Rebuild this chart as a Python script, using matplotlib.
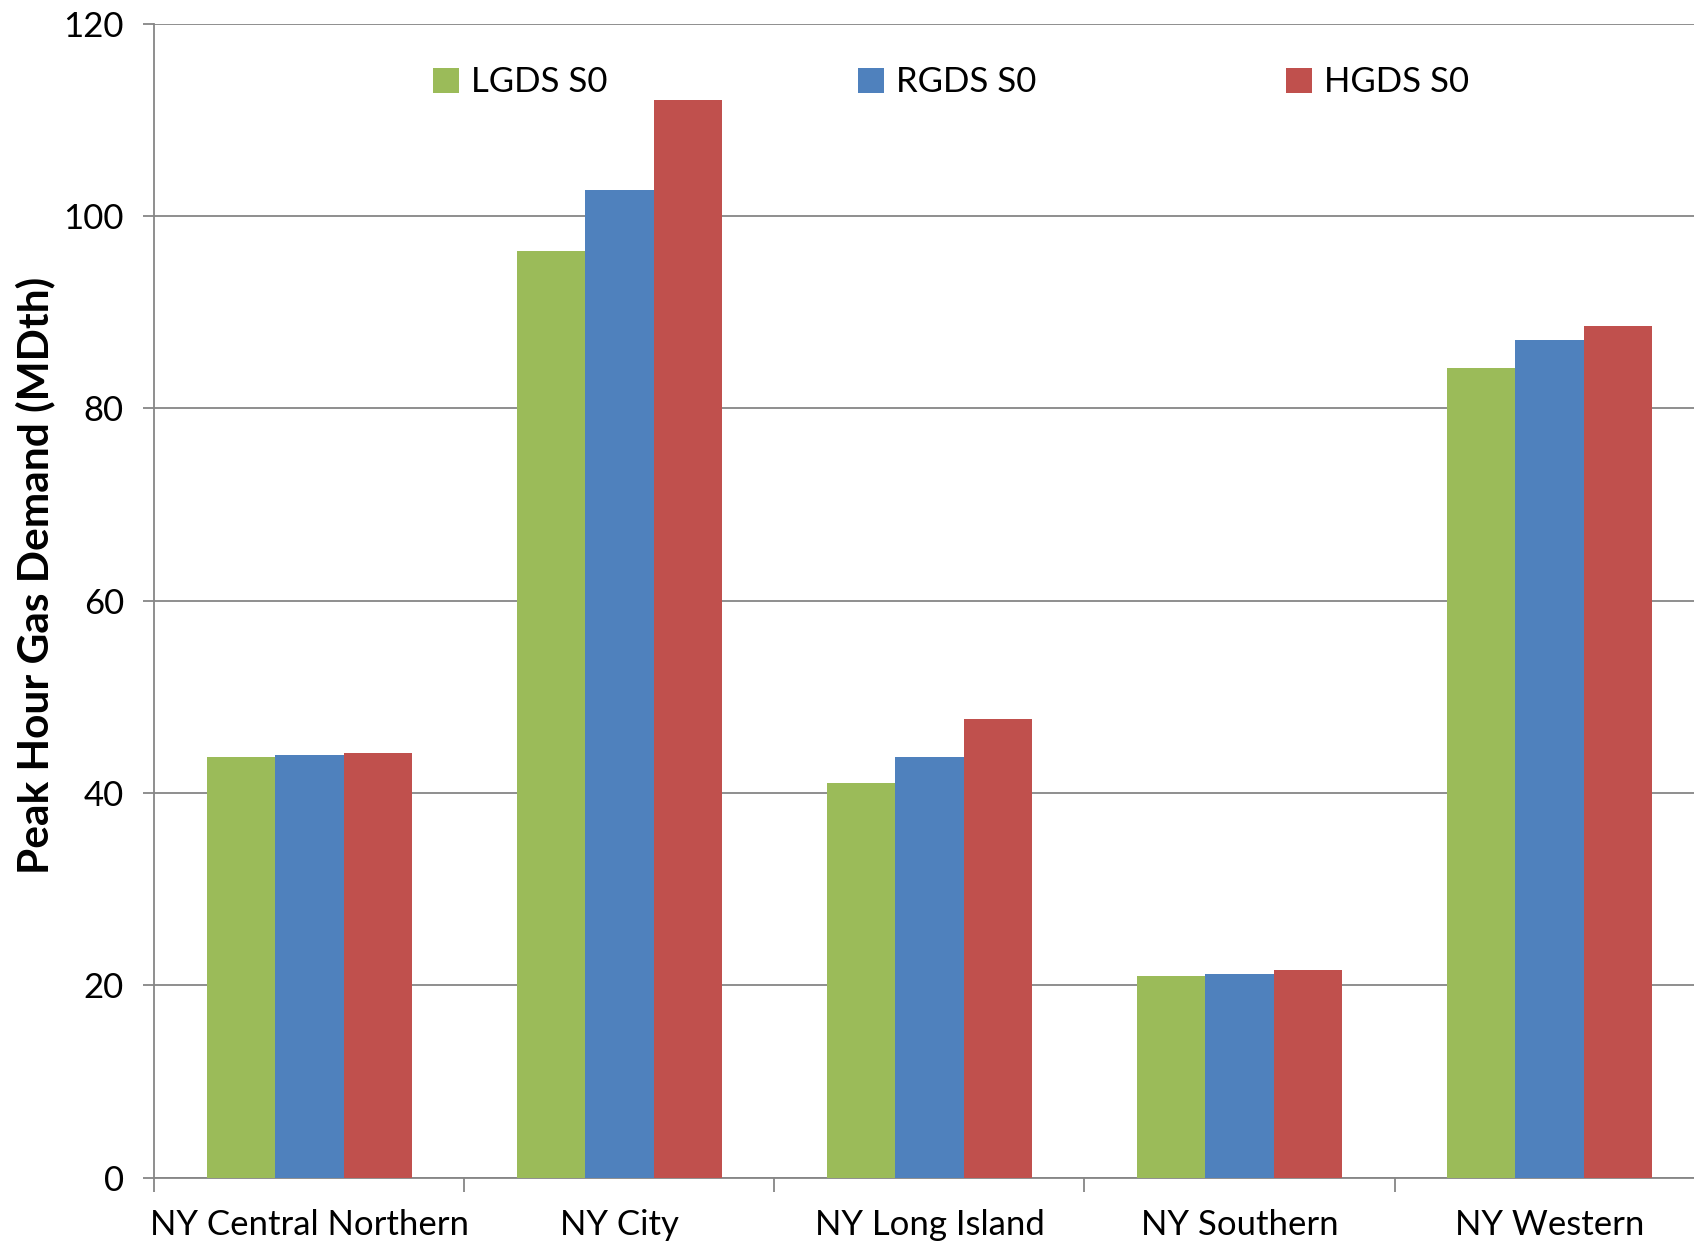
import numpy as np
import matplotlib.pyplot as plt
from matplotlib.ticker import FixedLocator, NullFormatter

plt.rcParams['font.family'] = ['Lato', 'DejaVu Sans']

# data
regions = ['NY Central Northern', 'NY City', 'NY Long Island', 'NY Southern', 'NY Western']
series = ['LGDS S0', 'RGDS S0', 'HGDS S0']
lgds = [43.7, 96.4, 41.0, 21.0, 84.2]
rgds = [43.9, 102.7, 43.7, 21.2, 87.1]
hgds = [44.2, 112.1, 47.7, 21.6, 88.6]
colors = ['#9BBB59', '#4F81BD', '#C0504D']

fig = plt.figure(figsize=(16.94, 12.47), dpi=100)
ax = fig.add_axes([0.0912, 0.0557, 0.915, 0.9253])

x = np.arange(len(regions))
w = 0.221
for i, (vals, name) in enumerate(zip([lgds, rgds, hgds], series)):
    ax.bar(x + (i - 1) * w, vals, width=w, color=colors[i], label=name, zorder=3)

ax.set_xlim(-0.5, len(regions) - 0.5)
ax.set_ylim(0, 120)
ax.set_yticks(range(0, 121, 20))
ax.grid(axis='y', color='#868686', linewidth=1.3, zorder=0)

# category boundary ticks and centred labels
ax.xaxis.set_major_locator(FixedLocator(np.arange(-0.5, len(regions), 1.0)))
ax.xaxis.set_major_formatter(NullFormatter())
ax.xaxis.set_minor_locator(FixedLocator(x))
ax.set_xticklabels(regions, minor=True)
ax.tick_params(axis='x', which='major', length=10, width=1.3, color='#868686')
ax.tick_params(axis='x', which='minor', length=0, pad=23, labelsize=25)
ax.tick_params(axis='y', length=8, width=1.3, color='#868686', labelsize=25, pad=14)

for s in ['top', 'right']:
    ax.spines[s].set_visible(False)
for s in ['left', 'bottom']:
    ax.spines[s].set_color('#868686')
    ax.spines[s].set_linewidth(1.3)

ax.set_ylabel('Peak Hour Gas Demand (MDth)', fontsize=30.5, fontweight='bold', labelpad=6)
ax.yaxis.label.set_y(0.522)

ax.legend(loc='upper center', bbox_to_anchor=(0.514, 0.99), ncol=3, frameon=False,
          fontsize=25, handlelength=0.75, handleheight=0.75, handletextpad=0.35,
          columnspacing=7.2)

fig.savefig('out.png', dpi=100)
